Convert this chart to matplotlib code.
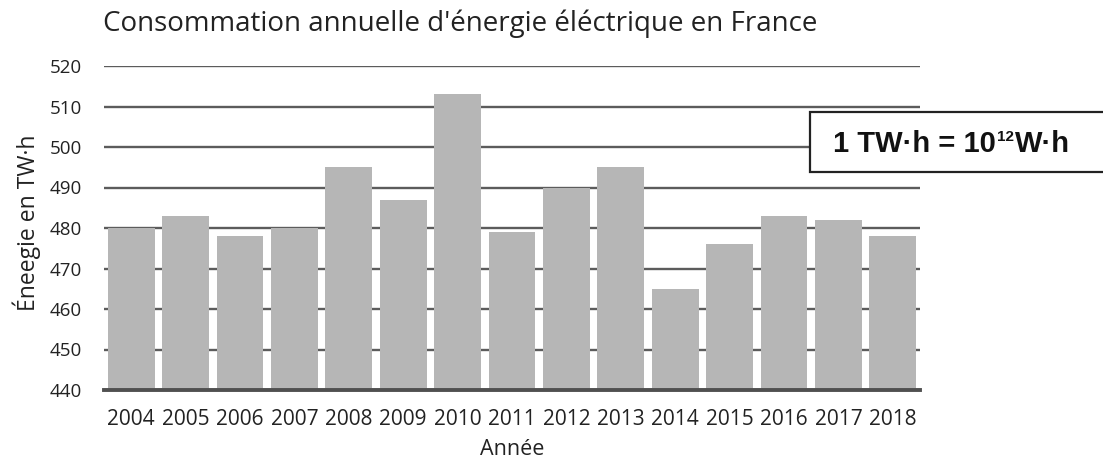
import matplotlib
matplotlib.use("Agg")
import matplotlib.pyplot as plt
from matplotlib.patches import Rectangle

annees = ["2004", "2005", "2006", "2007", "2008", "2009", "2010", "2011",
          "2012", "2013", "2014", "2015", "2016", "2017", "2018"]
energie = [480, 483, 478, 480, 495, 487, 513, 479, 490, 495, 465, 476, 483, 482, 478]
yticks = [440, 450, 460, 470, 480, 490, 500, 510, 520]

plt.rcParams['font.family'] = ['Open Sans', 'DejaVu Sans']

W, H = 1103, 463
fig = plt.figure(figsize=(W / 100, H / 100), dpi=100)
ax = fig.add_axes([104 / W, 1 - 390 / H, (920 - 104) / W, (390 - 66) / H])

x = list(range(len(annees)))
ax.bar(x, energie, width=0.86, color="#b6b6b6", zorder=2)
ax.set_ylim(440, 520)
ax.set_xlim(-0.5, len(annees) - 0.5)
ax.set_yticks(yticks)
ax.set_xticks(x)
ax.set_xticklabels(annees)
ax.grid(axis="y", color="#5c5c5c", linewidth=1.7, zorder=1)
ax.grid(axis="x", visible=False)
ax.set_axisbelow(True)
for s in ["top", "right", "left"]:
    ax.spines[s].set_visible(False)
ax.spines["bottom"].set_color("#505050")
ax.spines["bottom"].set_linewidth(2.8)
ax.spines["bottom"].set_zorder(3)
ax.tick_params(axis="both", length=0, colors="#222222")
ax.tick_params(axis="y", labelsize=13.5, pad=16)
ax.tick_params(axis="x", labelsize=15, pad=14)

ax.set_xlabel("Année", fontsize=15.5, color="#222222", labelpad=6)
fig.text(27 / W, 1 - 223 / H, "Éneegie en TW·h", rotation=90, fontsize=16.5,
         color="#222222", ha="center", va="center")
fig.text(103 / W, 1 - 31 / H, "Consommation annuelle d'énergie éléctrique en France",
         fontsize=20, color="#222222", va="baseline", ha="left")

# encadré
fig.patches.append(Rectangle((810 / W, 1 - 172 / H), 320 / W, 60 / H,
                             transform=fig.transFigure, facecolor="white",
                             edgecolor="#222222", linewidth=1.6, zorder=5))
bold = dict(fontweight="bold", family=["Liberation Sans", "DejaVu Sans"],
            color="#111111", va="baseline", ha="left", zorder=6)
t1 = fig.text(833 / W, 1 - 152 / H, "1 TW·h = 10", fontsize=21, **bold)
renderer = fig.canvas.get_renderer()
e1 = t1.get_window_extent(renderer)
t2 = fig.text((e1.x1 + 1) / W, 1 - 141 / H, "12", fontsize=11, **bold)
e2 = t2.get_window_extent(renderer)
fig.text((e2.x1 + 1) / W, 1 - 152 / H, "W·h", fontsize=21, **bold)

fig.savefig("out.png", dpi=100)
